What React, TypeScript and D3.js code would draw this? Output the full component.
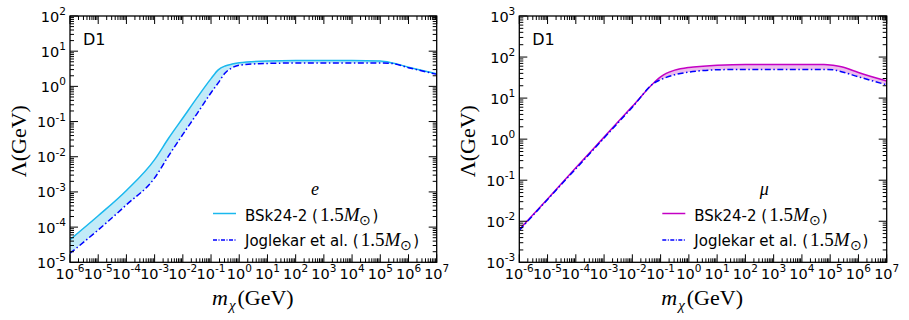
import * as d3 from 'd3';

// mass grid (GeV) shared by both curves of a panel
const massE = [1e-6, 1e-5, 1e-4, 1e-3, 3.16e-3, 1e-2, 3.16e-2, 0.1, 0.18, 0.316, 0.56, 1, 10, 100, 1e3, 1e4, 1e5, 2.5e5, 1e6, 1e7];
const bskE = [4.4e-5, 2.1e-4, 1.1e-3, 8.3e-3, 3.4e-2, 0.126, 0.47, 1.66, 2.95, 3.8, 4.3, 4.7, 5.25, 5.4, 5.4, 5.4, 5.25, 4.7, 3.5, 2.3];
const jogE = [1.8e-5, 8.3e-5, 4.3e-4, 2.5e-3, 1.07e-2, 4.3e-2, 0.166, 0.66, 1.26, 2.4, 3.4, 4.0, 4.5, 4.6, 4.6, 4.6, 4.6, 4.5, 3.4, 2.2];

const massMu = [1e-6, 1e-5, 1e-4, 1e-3, 1e-2, 0.063, 0.1, 0.158, 0.316, 1, 3.16, 10, 100, 1e3, 1e4, 6e4, 1.26e5, 2.5e5, 1e6, 1e7];
const bskMu = [6.3e-3, 3.5e-2, 0.2, 1.12, 6.3, 25, 33, 40, 48, 56, 60, 63, 66, 66, 66, 66, 63, 58, 42, 26];
const jogMu = [6.0e-3, 3.4e-2, 0.19, 1.07, 6.0, 24, 28, 32, 37, 43, 47, 49, 50, 50, 50, 50, 49, 44, 33, 21];

const xDecades = d3.range(-6, 8); // 10^-6 .. 10^7
const yDecadesE = d3.range(-5, 3);
const yDecadesMu = d3.range(-3, 4);

const top = 16;
const bottom = 262.3;
const tickFont = 'DejaVu Sans, sans-serif';
const mathFont = 'Liberation Serif, serif';

type PanelProps = {
  x0: number;
  x1: number;
  yDec: number[];
  mass: number[];
  bsk: number[];
  jog: number[];
  lineColor: string;
  fillColor: string;
  particle: string;
};

function Panel({ x0, x1, yDec, mass, bsk, jog, lineColor, fillColor, particle }: PanelProps) {
  const x = d3.scaleLog().domain([1e-6, 1e7]).range([x0, x1]);
  const y = d3.scaleLog()
    .domain([Math.pow(10, yDec[0]), Math.pow(10, yDec[yDec.length - 1])])
    .range([bottom, top]);

  const rows = mass.map((m, i) => ({ m, a: bsk[i], b: jog[i] }));
  const line = (key: 'a' | 'b') => d3.line<any>()
    .x(d => x(d.m)).y(d => y(d[key])).curve(d3.curveMonotoneX)(rows) || '';
  const band = d3.area<any>()
    .x(d => x(d.m)).y0(d => y(d.b)).y1(d => y(d.a)).curve(d3.curveMonotoneX)(rows) || '';

  const minorX: number[] = [];
  xDecades.slice(0, -1).forEach(k => d3.range(2, 10).forEach(j => minorX.push(j * Math.pow(10, k))));
  const minorY: number[] = [];
  yDec.slice(0, -1).forEach(k => d3.range(2, 10).forEach(j => minorY.push(j * Math.pow(10, k))));

  const legX = x0 + 143;
  const clipId = `clip-${Math.round(x0)}`;

  return (
    <g>
      <defs>
        <clipPath id={clipId}>
          <rect x={x0} y={top} width={x1 - x0} height={bottom - top} />
        </clipPath>
      </defs>
      <g clipPath={`url(#${clipId})`}>
        <path d={band} fill={fillColor} stroke="none" />
        <path d={line('a')} fill="none" stroke={lineColor} strokeWidth={1.5} />
        <path d={line('b')} fill="none" stroke="#0000ff" strokeWidth={1.5} strokeDasharray="6,2.5,1.5,2.5" />
      </g>

      {/* ticks on all four sides, pointing inward */}
      <g stroke="#000" strokeWidth={1}>
        {xDecades.map(k => (
          <g key={`xm${k}`}>
            <line x1={x(Math.pow(10, k))} x2={x(Math.pow(10, k))} y1={bottom} y2={bottom - 8} />
            <line x1={x(Math.pow(10, k))} x2={x(Math.pow(10, k))} y1={top} y2={top + 8} />
          </g>
        ))}
        {minorX.map((v, i) => (
          <g key={`xn${i}`}>
            <line x1={x(v)} x2={x(v)} y1={bottom} y2={bottom - 4} />
            <line x1={x(v)} x2={x(v)} y1={top} y2={top + 4} />
          </g>
        ))}
        {yDec.map(k => (
          <g key={`ym${k}`}>
            <line x1={x0} x2={x0 + 8} y1={y(Math.pow(10, k))} y2={y(Math.pow(10, k))} />
            <line x1={x1} x2={x1 - 8} y1={y(Math.pow(10, k))} y2={y(Math.pow(10, k))} />
          </g>
        ))}
        {minorY.map((v, i) => (
          <g key={`yn${i}`}>
            <line x1={x0} x2={x0 + 4} y1={y(v)} y2={y(v)} />
            <line x1={x1} x2={x1 - 4} y1={y(v)} y2={y(v)} />
          </g>
        ))}
      </g>
      <rect x={x0} y={top} width={x1 - x0} height={bottom - top} fill="none" stroke="#000" strokeWidth={1.3} />

      {/* tick labels */}
      <g fontFamily={tickFont} fontSize={14.5} fill="#000">
        {xDecades.map(k => (
          <text key={`xl${k}`} x={x(Math.pow(10, k))} y={278.5} textAnchor="middle">
            10<tspan dy={-6.5} fontSize={10.5}>{k < 0 ? `-${-k}` : k}</tspan>
          </text>
        ))}
        {yDec.map(k => (
          <text key={`yl${k}`} x={x0 - 4} y={y(Math.pow(10, k)) + 5.5} textAnchor="end">
            10<tspan dy={-6.5} fontSize={10.5}>{k < 0 ? `-${-k}` : k}</tspan>
          </text>
        ))}
      </g>

      {/* axis titles */}
      <text x={x0 + 142} y={305} fontFamily={mathFont} fontSize={22}>
        <tspan fontStyle="italic">m</tspan>
        <tspan fontStyle="italic" fontSize={15} dx={1} dy={5}>χ</tspan>
        <tspan dx={2} dy={-5}>(GeV)</tspan>
      </text>
      <text transform={`translate(${x0 - 44},${(top + bottom) / 2 + 2}) rotate(-90)`} textAnchor="middle"
        fontFamily={mathFont} fontSize={22}>Λ(GeV)</text>

      <text x={x0 + 13} y={45} fontFamily={tickFont} fontSize={16}>D1</text>

      {/* legend */}
      <text x={legX + 102} y={195} textAnchor="middle" fontFamily={mathFont} fontStyle="italic" fontSize={18}>{particle}</text>
      <line x1={legX} x2={legX + 23} y1={213.5} y2={213.5} stroke={lineColor} strokeWidth={1.5} />
      <line x1={legX} x2={legX + 23} y1={240} y2={240} stroke="#0000ff" strokeWidth={1.5} strokeDasharray="4,1.5,1,1.5" />
      <g fontFamily={tickFont} fontSize={15}>
        <text x={legX + 32} y={220.5}>
          BSk24-2 (<tspan fontFamily={mathFont} fontSize={19} dx={2}>1.5<tspan fontStyle="italic">M</tspan><tspan fontSize={14} dy={4}>⊙</tspan></tspan><tspan dx={1} dy={-4}>)</tspan>
        </text>
        <text x={legX + 32} y={245.5}>
          Joglekar et al. (<tspan fontFamily={mathFont} fontSize={19} dx={2}>1.5<tspan fontStyle="italic">M</tspan><tspan fontSize={14} dy={4}>⊙</tspan></tspan><tspan dx={1} dy={-4}>)</tspan>
        </text>
      </g>
    </g>
  );
}

export default function App() {
  return (
    <svg width={909} height={320} style={{ position: 'absolute', left: 0, top: 0, background: '#fff' }}>
      <rect width={909} height={320} fill="#fff" />
      <Panel x0={70} x1={436.7} yDec={yDecadesE} mass={massE} bsk={bskE} jog={jogE}
        lineColor="#1ab8ee" fillColor="#c2ebf8" particle="e" />
      <Panel x0={519.3} x1={886.7} yDec={yDecadesMu} mass={massMu} bsk={bskMu} jog={jogMu}
        lineColor="#c400c4" fillColor="#ecbdec" particle="μ" />
    </svg>
  );
}
